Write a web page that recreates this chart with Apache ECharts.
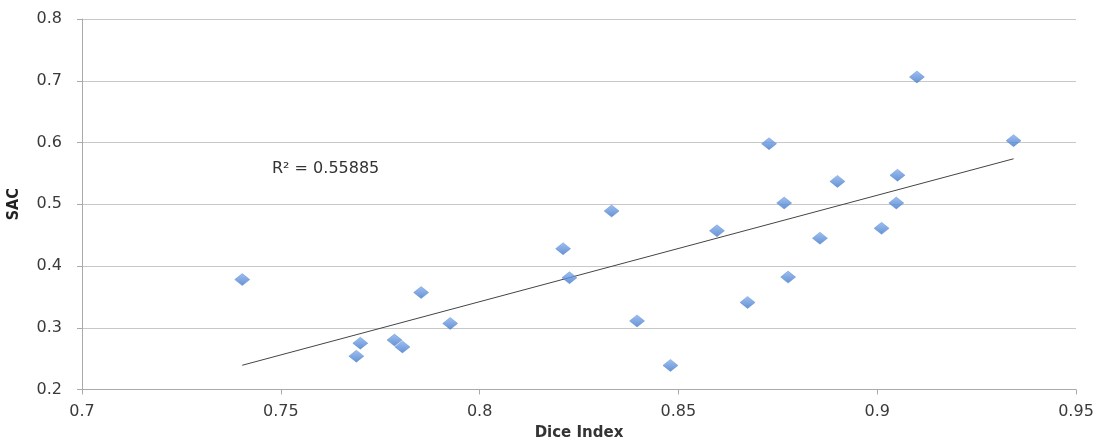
<!DOCTYPE html>
<html><head><meta charset="utf-8">
<script src="https://cdn.jsdelivr.net/npm/echarts@6/dist/echarts.min.js"></script>
<style>html,body{margin:0;padding:0;background:#fff}#c{width:1097px;height:442px}</style>
</head><body><div id="c"></div>
<script>
const diceIndex = [0.7403,0.769,0.770,0.7786,0.7806,0.7853,0.7926,0.821,0.8226,0.8332,0.8396,0.848,0.8597,0.8674,0.8728,0.8766,0.8776,0.8856,0.890,0.9011,0.9048,0.9051,0.910,0.9343];
const sac       = [0.378,0.254,0.275,0.280,0.269,0.357,0.307,0.428,0.381,0.489,0.311,0.239,0.457,0.341,0.598,0.502,0.382,0.445,0.537,0.461,0.502,0.547,0.706,0.603];
const r2Label = 'R² = 0.55885';

const pts = diceIndex.map((x,i)=>[x,sac[i]]);
// least-squares trend line
const n = pts.length;
let sx=0,sy=0,sxx=0,sxy=0;
pts.forEach(([x,y])=>{sx+=x;sy+=y;sxx+=x*x;sxy+=x*y;});
const slope=(n*sxy-sx*sy)/(n*sxx-sx*sx);
const icpt=(sy-slope*sx)/n;
const xmin=Math.min(...diceIndex), xmax=Math.max(...diceIndex);
const trend=[[xmin,icpt+slope*xmin],[xmax,icpt+slope*xmax]];

const chart = echarts.init(document.getElementById('c'));
const font = 'DejaVu Sans';
chart.setOption({
  animation:false,
  grid:{left:82,right:21,top:19,bottom:52.5,outerBoundsMode:'none',containLabel:false},
  xAxis:{type:'value',min:0.7,max:0.95,interval:0.05,
    name:'Dice Index',nameLocation:'middle',nameGap:36,
    nameTextStyle:{fontFamily:font,fontWeight:'bold',fontSize:15,color:'#333'},
    axisLine:{lineStyle:{color:'#aaa'}},
    axisTick:{show:true,length:5,inside:false,lineStyle:{color:'#aaa'}},
    axisLabel:{fontFamily:font,fontSize:16,color:'#3a3a3a',margin:14,formatter:v=>String(+v.toFixed(2))},
    splitLine:{show:false}},
  yAxis:{type:'value',min:0.2,max:0.8,interval:0.1,
    name:'SAC',nameLocation:'middle',nameGap:60,
    nameTextStyle:{fontFamily:'Liberation Sans Narrow, DejaVu Sans Condensed',fontWeight:'bold',fontSize:16,color:'#222'},
    axisLine:{show:true,lineStyle:{color:'#aaa'}},
    axisTick:{show:true,length:5,lineStyle:{color:'#aaa'}},
    axisLabel:{fontFamily:font,fontSize:16,color:'#3a3a3a',margin:20,formatter:v=>v.toFixed(1)},
    splitLine:{show:true,lineStyle:{color:'#c8c8c8',width:1}}},
  series:[
    {type:'line',data:trend,symbol:'none',lineStyle:{color:'#444',width:1},z:1},
    {type:'scatter',data:pts,symbol:'diamond',symbolSize:[15,12],
      itemStyle:{color:new echarts.graphic.LinearGradient(0,0,0,1,[{offset:0,color:'#86b0ee'},{offset:1,color:'#3f76c8'}]),borderColor:'#4f82cc',borderWidth:0.5},z:3}
  ],
  graphic:[{type:'text',left:272,top:161,style:{text:r2Label,font:'16px DejaVu Sans',fill:'#333'}}]
});
</script></body></html>
